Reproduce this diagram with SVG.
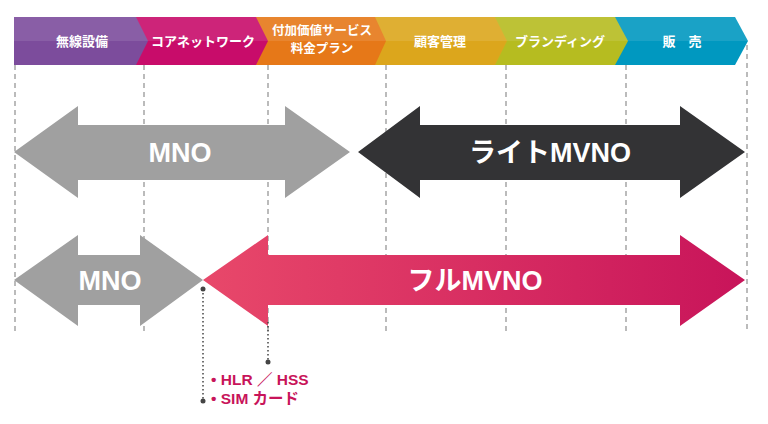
<svg xmlns="http://www.w3.org/2000/svg" width="768" height="424" viewBox="0 0 768 424">
<style>
.h{font-family:"Noto Sans CJK JP",sans-serif;font-weight:bold;font-size:13px;fill:#fff;text-anchor:middle}
.s{font-size:12.5px}
.a{font-family:"Liberation Sans","Noto Sans CJK JP",sans-serif;font-weight:bold;font-size:27px;fill:#fff;text-anchor:middle}
.g{stroke:#bbb;stroke-width:2;stroke-dasharray:5,4}
.d{stroke:#444;stroke-width:1.5;stroke-dasharray:1.5,2.5}
.n{font-family:"Liberation Sans","Noto Sans CJK JP",sans-serif;font-weight:bold;font-size:15.5px;fill:#c8145a}
.hl{fill:#fff;opacity:0.1}
</style>
<defs>
<linearGradient id="pk" x1="0" x2="1"><stop offset="0" stop-color="#e8486a"/><stop offset="1" stop-color="#c8145a"/></linearGradient>
</defs>
<g id="guides">
<line class="g" x1="15" y1="65" x2="15" y2="332"/><line class="g" x1="144" y1="65" x2="144" y2="332"/>
<line class="g" x1="268" y1="65" x2="268" y2="332"/><line class="g" x1="386" y1="65" x2="386" y2="332"/>
<line class="g" x1="506" y1="65" x2="506" y2="332"/><line class="g" x1="626" y1="65" x2="626" y2="332"/>
<line class="g" x1="747" y1="45" x2="747" y2="332"/>
</g>
<g id="header">
<polygon points="615,17 735,17 748,41 735,65 615,65" fill="#0098c0"/>
<polygon points="495,17 615,17 628,41 615,65 495,65" fill="#b6bc20"/>
<polygon points="375,17 495,17 507,41 495,65 375,65" fill="#dca61c"/>
<polygon points="256,17 375,17 386,41 375,65 256,65" fill="#e67818"/>
<polygon points="136,17 256,17 268,41 256,65 136,65" fill="#c80c6a"/>
<polygon points="14,17 136,17 148,41 136,65 14,65" fill="#7c4c9c"/>
<polygon class="hl" points="14,17 735,17 748,41 14,41"/>
<text class="h" x="82" y="46">無線設備</text>
<text class="h" x="203" y="46">コアネットワーク</text>
<text class="h s" x="322" y="35">付加価値サービス</text><text class="h s" x="322" y="53">料金プラン</text>
<text class="h" x="440" y="46">顧客管理</text>
<text class="h" x="560" y="46">ブランディング</text>
<text class="h" x="682" y="46">販　売</text>
</g>
<g id="mno1"><polygon points="14,152 78,106 78,125 285,125 285,106 350,152 285,198 285,180 78,180 78,198" fill="#a0a0a0"/><text class="a" x="180" y="162">MNO</text></g>
<g id="lite"><polygon points="358,152 420,106 420,125 680,125 680,106 745,152 680,198 680,180 420,180 420,198" fill="#333335"/><text class="a" x="550" y="162">ライトMVNO</text></g>
<g id="mno2"><polygon points="14,280 78,235 78,255 140,255 140,235 203,280 140,326 140,305 78,305 78,326" fill="#a0a0a0"/><text class="a" x="110" y="290">MNO</text></g>
<g id="full"><polygon points="203,280 268,235 268,255 680,255 680,235 745,280 680,326 680,305 268,305 268,326" fill="url(#pk)"/><text class="a" x="475" y="290">フルMVNO</text></g>
<g id="connectors">
<line class="d" x1="203" y1="289" x2="203" y2="401"/><circle cx="203" cy="289" r="2.5" fill="#444"/><circle cx="203" cy="401" r="2.5" fill="#444"/>
<line class="d" x1="268" y1="322" x2="268" y2="362"/><circle cx="268" cy="362" r="2.5" fill="#444"/>
</g>
<g id="note"><text class="n" x="211" y="385">• HLR ／ HSS</text><text class="n" x="211" y="404">• SIM カード</text></g>
</svg>
